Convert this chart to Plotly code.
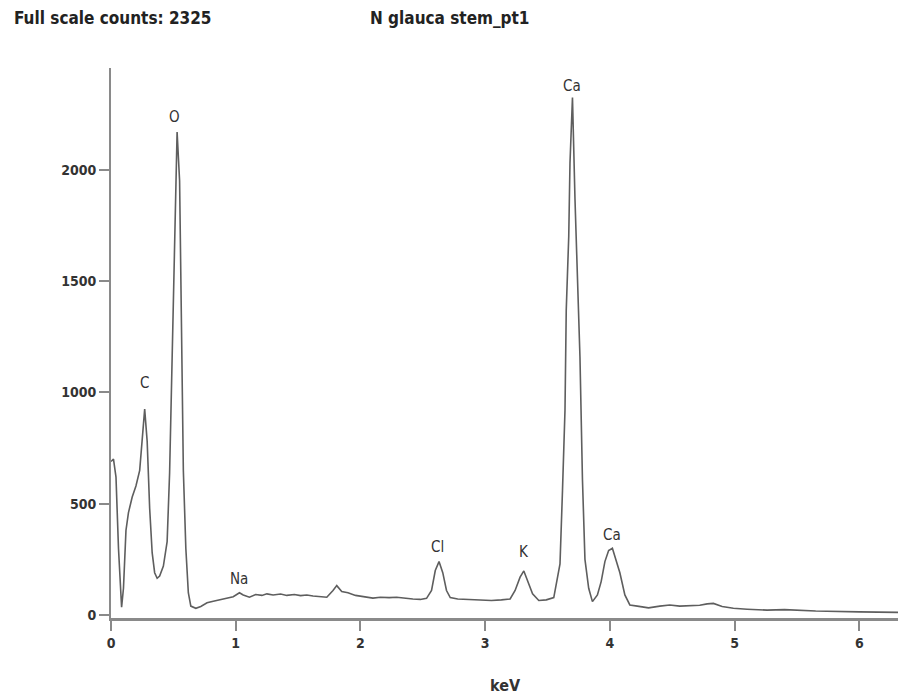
import plotly.graph_objects as go

# Spectrum (keV vs counts)
energy_kev = [0.00, 0.02, 0.04, 0.06, 0.085, 0.10, 0.12, 0.14, 0.17, 0.20, 0.23, 0.25, 0.27, 0.29,
              0.31, 0.33, 0.35, 0.37, 0.39, 0.42, 0.45, 0.47, 0.49, 0.51, 0.53, 0.55, 0.57, 0.58,
              0.60, 0.62, 0.64, 0.68, 0.72, 0.77, 0.82, 0.88, 0.94, 0.98, 1.03, 1.06, 1.11, 1.16,
              1.21, 1.25, 1.30, 1.36, 1.41, 1.47, 1.52, 1.57, 1.62, 1.68, 1.73, 1.78, 1.81, 1.85,
              1.90, 1.96, 2.02, 2.10, 2.16, 2.23, 2.29, 2.36, 2.42, 2.48, 2.53, 2.57, 2.60, 2.63,
              2.66, 2.69, 2.72, 2.78, 2.86, 2.96, 3.05, 3.13, 3.20, 3.24, 3.28, 3.31, 3.34, 3.38,
              3.43, 3.49, 3.55, 3.58, 3.60, 3.62, 3.64, 3.65, 3.67, 3.68, 3.70, 3.72, 3.74, 3.76,
              3.78, 3.80, 3.83, 3.86, 3.90, 3.93, 3.96, 3.99, 4.02, 4.05, 4.08, 4.12, 4.16, 4.22,
              4.31, 4.40, 4.48, 4.56, 4.64, 4.72, 4.78, 4.83, 4.90, 4.99, 5.10, 5.26, 5.40, 5.53,
              5.65, 5.74, 5.85, 6.00, 6.15, 6.31]
counts = [690, 700, 620, 300, 35, 120, 380, 460, 530, 580, 650, 780, 925, 780,
          480, 280, 190, 165, 175, 220, 330, 640, 1150, 1750, 2170, 1950, 1200, 650,
          300, 100, 40, 30, 38, 55, 62, 70, 78, 82, 100, 90, 80, 92,
          88, 95, 90, 94, 88, 92, 87, 90, 85, 82, 80, 110, 132, 105,
          100, 88, 82, 76, 80, 78, 80, 74, 72, 70, 75, 110, 200, 240,
          190, 110, 78, 72, 70, 67, 65, 68, 72, 110, 170, 198, 150, 95,
          65, 68, 78, 160, 230, 560, 920, 1370, 1700, 2030, 2325, 1870, 1460, 1160,
          610, 250, 120, 60, 90, 150, 240, 290, 300, 250, 190, 90, 45, 40,
          32, 40, 45, 40, 42, 44, 50, 52, 38, 30, 26, 22, 24, 20,
          18, 17, 15, 14, 13, 12]

# Element peak labels
peak_labels = ["C", "O", "Na", "Cl", "K", "Ca", "Ca"]
peak_energy = [0.27, 0.51, 1.03, 2.62, 3.31, 3.70, 4.02]
peak_counts = [925, 2170, 100, 240, 198, 2325, 300]
label_shift = [26, 15, 14, 15, 19, 12, 13]

x_ticks = [0, 1, 2, 3, 4, 5, 6]
y_ticks = [0, 500, 1000, 1500, 2000]

FONT = "DejaVu Sans Condensed, Liberation Sans Narrow, Arial Narrow, sans-serif"
AXIS_GRAY = "#8a8a8a"

fig = go.Figure()
fig.add_trace(go.Scatter(x=energy_kev, y=counts, mode="lines",
                         line=dict(color="#5e5e5e", width=1.6),
                         hoverinfo="skip", showlegend=False))

for lab, ex, cy, sh in zip(peak_labels, peak_energy, peak_counts, label_shift):
    fig.add_annotation(x=ex, y=cy, text=lab, showarrow=False, yshift=sh,
                       yanchor="middle", xanchor="center",
                       font=dict(family=FONT, size=15, color="#333333"))

fig.add_annotation(xref="paper", yref="paper", x=(505 - 111) / 787, y=-67 / 550,
                   text="keV", showarrow=False, xanchor="center", yanchor="middle",
                   font=dict(family=FONT, size=16, color="#333333", weight="bold"))
fig.add_annotation(xref="paper", yref="paper", x=(12 - 111) / 787, y=1.0 + 50 / 550,
                   text="Full scale counts: 2325", showarrow=False, xanchor="left",
                   yanchor="middle",
                   font=dict(family=FONT, size=17, color="#222222", weight="bold"))
fig.add_annotation(xref="paper", yref="paper", x=(368 - 111) / 787, y=1.0 + 50 / 550,
                   text="N glauca stem_pt1", showarrow=False, xanchor="left",
                   yanchor="middle",
                   font=dict(family=FONT, size=17, color="#222222", weight="bold"))

fig.update_layout(
    width=898, height=694,
    margin=dict(l=111, r=0, t=68, b=76),
    paper_bgcolor="white", plot_bgcolor="white",
    xaxis=dict(range=[0, 6.31], tickvals=x_ticks, ticks="outside", ticklen=10,
               tickwidth=2, tickcolor=AXIS_GRAY, showline=True, linecolor=AXIS_GRAY,
               linewidth=3, showgrid=False, zeroline=False,
               tickfont=dict(family=FONT, size=14, color="#333333", weight="bold")),
    yaxis=dict(range=[-13.5, 2458], tickvals=y_ticks, ticks="outside", ticklen=10,
               tickwidth=2, tickcolor=AXIS_GRAY, showline=True, linecolor=AXIS_GRAY,
               linewidth=2, showgrid=False, zeroline=False,
               tickfont=dict(family=FONT, size=14, color="#333333", weight="bold")),
)

fig.write_html("out.html", config={"displayModeBar": False},
               post_script="document.body.style.margin='0';")
